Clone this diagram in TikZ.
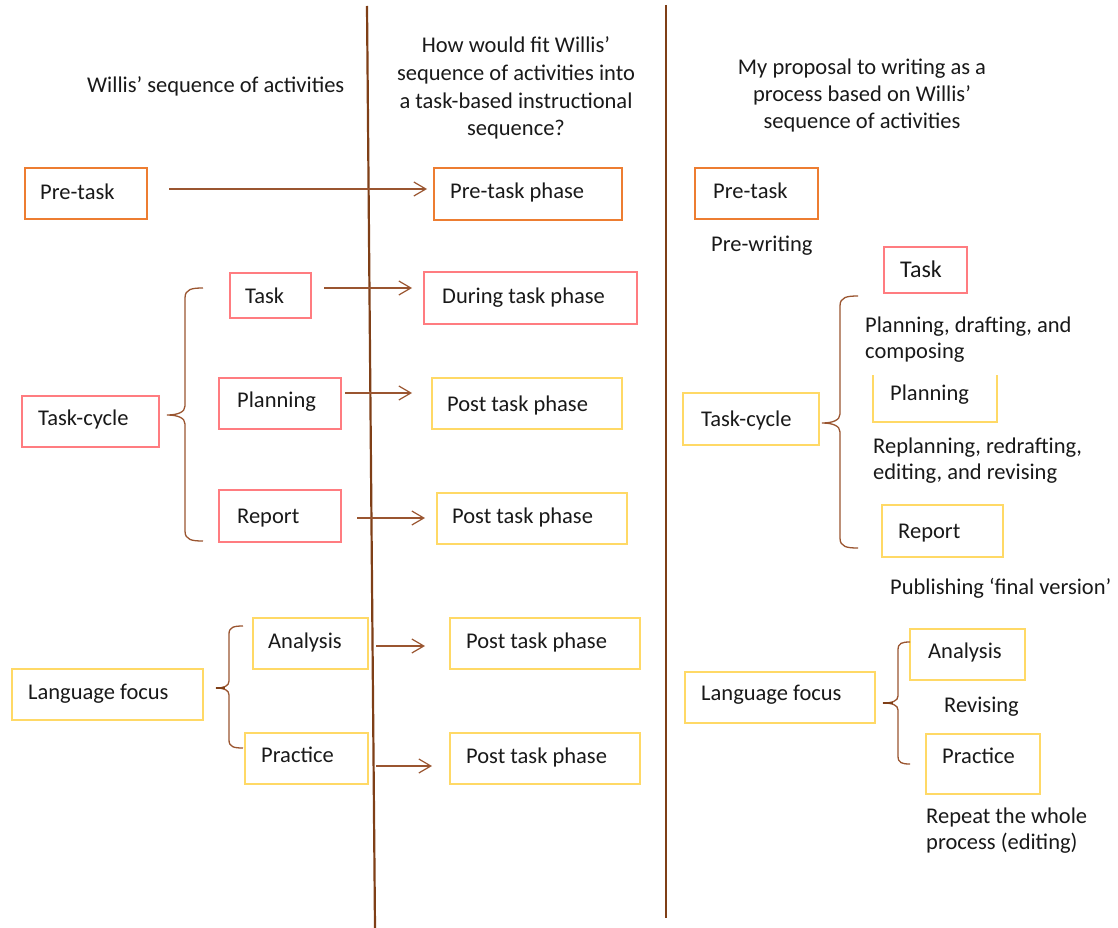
\documentclass[tikz,border=0pt]{standalone}
\usepackage{fontspec}
\setmainfont{Carlito}
\usetikzlibrary{arrows.meta}
\definecolor{corange}{HTML}{ED7D31}
\definecolor{cpink}{HTML}{FF7C80}
\definecolor{cyellow}{HTML}{FFD966}
\definecolor{cbrown}{HTML}{9A5530}
\definecolor{cline}{HTML}{7F3F17}
\newcommand\mybox[6]{\node[bx, draw=#2, minimum width={(#5-#3)*1pt}, minimum height={(#6-#4)*1pt}] (#1) at (#3,#4) {};}
\newcommand\mytxt[4]{\node[tx] (#1) at (#2,#3) {#4};}
\newcommand\myctr[4]{\node[tx, anchor=base] (#1) at (#2,#3) {#4};}
\begin{document}
\begin{tikzpicture}[x=1pt,y=-1pt,
  bx/.style={rectangle, line width=1.8pt, inner sep=0pt, anchor=north west},
  tx/.style={anchor=base west, inner sep=0pt, font=\fontsize{22.5}{27}\selectfont, text=black!90},
  arr/.style={draw=cbrown, line width=1.2pt, -{Straight Barb[length=12pt,width=14pt,line width=1.2pt]}},
  brace/.style={draw=cbrown, line width=1.3pt},
  vline/.style={draw=cline, line width=2.2pt}
]
\useasboundingbox (0,0) rectangle (1118,928);

% vertical separators
\coordinate (v1t) at (367,6);
\coordinate (v1b) at (375,928);
\coordinate (v2t) at (666,5);
\coordinate (v2b) at (666,918);
\draw[vline] (v1t) -- (v1b);
\draw[vline] (v2t) -- (v2b);

% titles
\mytxt{tl}{87}{93}{Willis’ sequence of activities}
\myctr{tm1}{516}{53}{How would fit Willis’}
\myctr{tm2}{516}{81}{sequence of activities into}
\myctr{tm3}{516}{109}{a task-based instructional}
\myctr{tm4}{516}{136}{sequence?}
\myctr{tr1}{862}{75}{My proposal to writing as a}
\myctr{tr2}{862}{102}{process based on Willis’}
\myctr{tr3}{862}{129}{sequence of activities}

% ---------- left column ----------
\mybox{lpre}{corange}{24}{167}{146}{218}
\mytxt{lpret}{40}{200}{Pre-task}
\mybox{ltc}{cpink}{21}{395}{158}{446}
\mytxt{ltct}{38}{425}{Task-cycle}
\mybox{ltask}{cpink}{229}{272}{310}{317}
\mytxt{ltaskt}{245}{303}{Task}
\mybox{lplan}{cpink}{218}{377}{340}{428}
\mytxt{lplant}{237}{407}{Planning}
\mybox{lrep}{cpink}{218}{489}{340}{541}
\mytxt{lrept}{237}{523}{Report}
\mybox{llf}{cyellow}{11}{668}{202}{719}
\mytxt{llft}{28}{699}{Language focus}
\mybox{lan}{cyellow}{252}{617}{367}{668}
\mytxt{lant}{268}{648}{Analysis}
\mybox{lpr}{cyellow}{244}{732}{367}{783}
\mytxt{lprt}{261}{762}{Practice}

% braces left
\draw[brace] (203,288) .. controls (192,288) and (185,289) .. (185,298) -- (185,406)
  .. controls (185,412) and (178,415) .. (167,415)
  .. controls (178,415) and (185,418) .. (185,424) -- (185,531)
  .. controls (185,540) and (192,541) .. (203,541);
\draw[brace] (243,626) .. controls (234,626) and (229,627) .. (229,634) -- (229,681)
  .. controls (229,686) and (224,688) .. (216,688)
  .. controls (224,688) and (229,690) .. (229,695) -- (229,740)
  .. controls (229,747) and (234,748) .. (243,748);
\draw[draw=cline, line width=2.6pt] (216,688) -- (225,688);

% ---------- middle column ----------
\mybox{mpre}{corange}{433}{167}{621}{219}
\mytxt{mpret}{450}{198}{Pre-task phase}
\mybox{mdur}{cpink}{423}{271}{636}{323}
\mytxt{mdurt}{442}{303}{During task phase}
\mybox{mp1}{cyellow}{431}{377}{621}{428}
\mytxt{mp1t}{447}{411}{Post task phase}
\mybox{mp2}{cyellow}{436}{492}{626}{543}
\mytxt{mp2t}{452}{523}{Post task phase}
\mybox{mp3}{cyellow}{449}{617}{639}{668}
\mytxt{mp3t}{466}{648}{Post task phase}
\mybox{mp4}{cyellow}{449}{732}{639}{783}
\mytxt{mp4t}{466}{763}{Post task phase}

% arrows
\coordinate (a1) at (169,189);
\coordinate (a2) at (324,288);
\coordinate (a3) at (345,393);
\coordinate (a4) at (357,518);
\coordinate (a5) at (376,646);
\coordinate (a6) at (376,766);
\draw[arr] (a1) -- ([xshift=-6pt]a1 -| mpre.west);
\draw[arr] (a2) -- ([xshift=-11pt]a2 -| mdur.west);
\draw[arr] (a3) -- ([xshift=-19pt]a3 -| mp1.west);
\draw[arr] (a4) -- ([xshift=-11pt]a4 -| mp2.west);
\draw[arr] (a5) -- ([xshift=-24pt]a5 -| mp3.west);
\draw[arr] (a6) -- ([xshift=-17pt]a6 -| mp4.west);

% ---------- right column ----------
\mybox{rpre}{corange}{694}{167}{817}{218}
\mytxt{rpret}{713}{198}{Pre-task}
\mytxt{rprew}{711}{251}{Pre-writing}
\mybox{rtask}{cpink}{883}{246}{966}{292}
\node[tx, font=\fontsize{24}{28}\selectfont] (rtaskt) at (900,277) {Task};
\mytxt{rpd1}{865}{332}{Planning, drafting, and}
\mytxt{rpd2}{865}{358}{composing}
\node[bx, minimum width=122pt, minimum height=45pt] (rplan) at (873,375) {};
\draw[draw=cyellow, line width=1.8pt] (rplan.north west) -- (rplan.south west) -- (rplan.south east) -- (rplan.north east);
\mytxt{rplant}{890}{400}{Planning}
\mybox{rtc}{cyellow}{682}{392}{818}{444}
\mytxt{rtct}{701}{426}{Task-cycle}
\mytxt{rre1}{873}{453}{Replanning, redrafting,}
\mytxt{rre2}{873}{479}{editing, and revising}
\mybox{rrep}{cyellow}{881}{504}{1002}{556}
\mytxt{rrept}{898}{538}{Report}
\mytxt{rpub}{890}{594}{Publishing ‘final version’}
\mybox{rlf}{cyellow}{684}{671}{874}{722}
\mytxt{rlft}{701}{700}{Language focus}
\mybox{ran}{cyellow}{909}{628}{1024}{679}
\mytxt{rant}{928}{658}{Analysis}
\mytxt{rrev}{944}{712}{Revising}
\mybox{rpr}{cyellow}{925}{733}{1039}{793}
\mytxt{rprt}{942}{763}{Practice}
\mytxt{rrp1}{926}{823}{Repeat the whole}
\mytxt{rrp2}{926}{849}{process (editing)}

% braces right
\draw[brace] (858,296) .. controls (847,296) and (840,297) .. (840,306) -- (840,414)
  .. controls (840,420) and (833,423) .. (822,423)
  .. controls (833,423) and (840,426) .. (840,432) -- (840,538)
  .. controls (840,547) and (847,548) .. (858,548);
\draw[brace] (910,642) .. controls (902,642) and (898,643) .. (898,650) -- (898,696)
  .. controls (898,701) and (892,703) .. (883,703)
  .. controls (892,703) and (898,705) .. (898,710) -- (898,756)
  .. controls (898,763) and (902,764) .. (910,764);
\draw[draw=cline, line width=2.6pt] (883,703) -- (893,703);
\end{tikzpicture}
\end{document}
